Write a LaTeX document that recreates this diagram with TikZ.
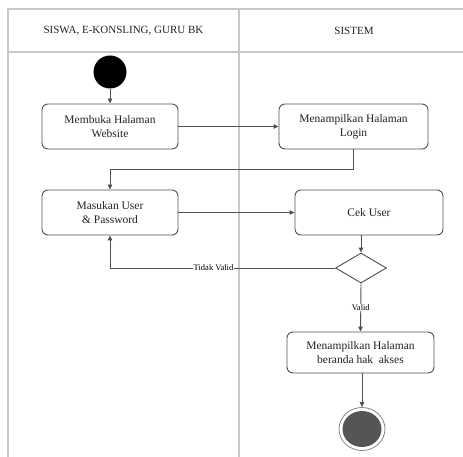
\documentclass[tikz,border=0pt]{standalone}
\usepackage{fontspec}
\setmainfont{Liberation Serif}
\usetikzlibrary{shapes.geometric,arrows.meta}
\definecolor{lane}{HTML}{C8C8C8}
\definecolor{edge}{HTML}{505050}
\definecolor{ink}{HTML}{222222}
\definecolor{endfill}{HTML}{555555}
\begin{document}
\begin{tikzpicture}[x=1pt,y=-1pt,
  act/.style={draw=edge,line width=0.9pt,rounded corners=6pt,fill=white,
    align=center,text=ink,font=\fontsize{11.5}{14}\selectfont,inner sep=2pt},
  flow/.style={draw=edge,line width=0.9pt,-{Triangle[length=5pt,width=4.5pt]}},
  guard/.style={fill=white,text=black,font=\fontsize{8.5}{9}\selectfont,inner sep=0.5pt},
  head/.style={text=ink,font=\fontsize{11}{13}\selectfont}]
\useasboundingbox (0,0) rectangle (463,457);
% swimlane frame
\draw[lane,line width=1.4pt] (8,457) -- (8,9) -- (463,9);
\draw[lane,line width=1.4pt] (8,52) -- (463,52);
\draw[lane,line width=1.4pt] (239,9) -- (239,457);
\node[head] (lanea) at (123.5,31) {SISWA, E-KONSLING, GURU BK};
\node[head] (laneb) at (354,31) {SISTEM};
% nodes
\node[circle,fill=black,minimum size=33pt,inner sep=0pt] (start) at (110,72) {};
\node[act,minimum width=136pt,minimum height=45pt] (buka) at (110,126.5) {Membuka Halaman\\Website};
\node[act,minimum width=149pt,minimum height=45pt] (login) at (353.5,126.5) {Menampilkan Halaman\\Login};
\node[act,minimum width=136pt,minimum height=45pt] (masuk) at (110,212.5) {Masukan User\\ \& Password};
\node[act,minimum width=148pt,minimum height=45pt] (cek) at (369,212.5) {Cek User};
\node[diamond,draw=edge,line width=0.9pt,fill=white,minimum width=51pt,minimum height=30pt,inner sep=0pt] (dec) at (361,268) {};
\node[act,minimum width=147pt,minimum height=41pt] (beranda) at (360.5,352.5) {Menampilkan Halaman\\beranda hak\ \ akses};
\node[ellipse,draw=edge!70,line width=0.8pt,minimum width=46pt,minimum height=43pt,inner sep=0pt] (end) at (362,429) {};
\node[ellipse,fill=endfill,minimum width=39pt,minimum height=36pt,inner sep=0pt] (endin) at (end.center) {};
% connectors
\draw[flow] (start.south) -- (buka.north);
\draw[flow] (buka.east) -- (login.west);
\draw[flow] (login.south) -- (login.south |- 0,169) -| (masuk.north);
\draw[flow] (masuk.east) -- (cek.west);
\draw[flow] (dec.north |- cek.south) -- (dec.north);
\draw[flow] (dec.west) -| node[guard,pos=0.27] {Tidak Valid} (masuk.south);
\draw[flow] (dec.south) -- node[guard] {Valid} (beranda.north);
\draw[flow] (end.north |- beranda.south) -- (end.north);
\end{tikzpicture}
\end{document}
